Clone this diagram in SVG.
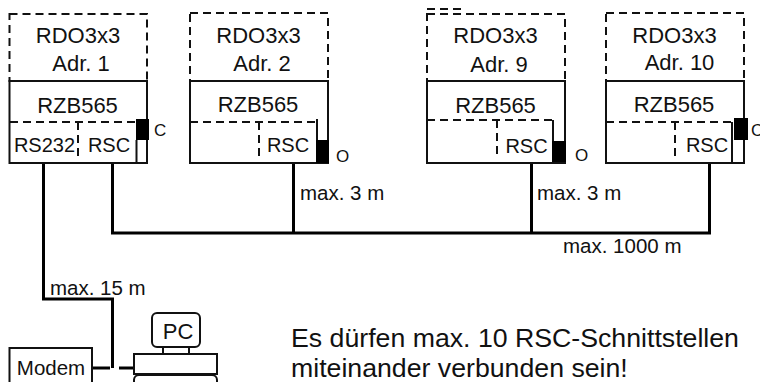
<svg xmlns="http://www.w3.org/2000/svg" width="760" height="382" viewBox="0 0 760 382">
<style>
text{font-family:"Liberation Sans",Arial,sans-serif;fill:#111}
.t{font-size:22px;text-anchor:middle}
.r{font-size:20px;text-anchor:middle}
.m{font-size:20.500px}
.c{font-size:17px}
.n{fill:none;stroke:#111;stroke-width:2}
.d{fill:none;stroke:#111;stroke-width:2;stroke-dasharray:8 5}
.b{fill:#000}
.w{fill:none;stroke:#000;stroke-width:3}
</style>
<rect width="760" height="382" fill="#fff"/>
<g id="connectors">
<path class="w" d="M43.500 163V299H112.500V368"/>
<path class="w" d="M112.500 163V233H709.500V163"/>
<path class="w" d="M293.500 163V233M531.500 163V233"/>
<path class="w" d="M92 368H110M119 368H134"/>
</g>
<g id="node-adr1">
<rect class="d" x="9.500" y="14" width="137.500" height="67"/>
<rect class="n" x="9.500" y="81" width="137.500" height="82"/>
<path class="d" d="M10 122H136M78 122V160"/>
<path class="n" d="M136.500 140V163"/>
<rect class="b" x="136" y="119" width="13" height="21"/>
<text class="t" x="78" y="43">RDO3x3</text><text class="t" x="81" y="71">Adr. 1</text>
<text class="t" x="77.500" y="112.500">RZB565</text>
<text class="r" x="44.500" y="152">RS232</text><text class="r" x="109" y="152">RSC</text>
<text class="c" x="154" y="136">C</text>
</g>
<g id="node-adr2">
<rect class="d" x="190" y="13" width="138" height="68"/>
<rect class="n" x="190" y="81" width="138" height="82"/>
<path class="d" d="M190 122H317M259 122V160"/>
<path class="n" d="M317 119V140"/>
<rect class="b" x="316" y="140" width="13" height="23"/>
<text class="t" x="258.500" y="42.500">RDO3x3</text><text class="t" x="262" y="70.500">Adr. 2</text>
<text class="t" x="258" y="112">RZB565</text>
<text class="r" x="288" y="152">RSC</text>
<text class="c" x="336" y="162">O</text>
</g>
<g id="node-adr9">
<path class="d" d="M427 9H464"/>
<rect class="d" x="427" y="14" width="138" height="67"/>
<rect class="n" x="427" y="81" width="138" height="82"/>
<path class="d" d="M427 120H553M497 120V158"/>
<path class="n" d="M553 120V141"/>
<rect class="b" x="552" y="141" width="14" height="21"/>
<text class="t" x="495.500" y="43">RDO3x3</text><text class="t" x="499" y="71.500">Adr. 9</text>
<text class="t" x="495.500" y="113">RZB565</text>
<text class="r" x="526.500" y="152.500">RSC</text>
<text class="c" x="575" y="161">O</text>
</g>
<g id="node-adr10">
<rect class="d" x="606" y="13" width="138" height="68"/>
<rect class="n" x="606" y="81" width="138" height="82"/>
<path class="d" d="M606 122H733M675 122V160"/>
<path class="n" d="M732 122V163"/>
<rect class="b" x="734" y="118" width="14" height="22"/>
<text class="t" x="674.500" y="42.500">RDO3x3</text><text class="t" x="679.500" y="70">Adr. 10</text>
<text class="t" x="674" y="112">RZB565</text>
<text class="r" x="707" y="152">RSC</text>
<text class="c" x="751" y="136">C</text>
</g>
<g id="node-modem">
<rect class="n" x="9.500" y="348" width="82.500" height="40"/>
<text x="51" y="375" font-size="20.500" text-anchor="middle">Modem</text>
</g>
<g id="node-pc">
<rect class="n" x="152" y="313" width="48" height="34" rx="5"/>
<rect class="n" x="163" y="347" width="26" height="7"/>
<rect class="n" x="134" y="354" width="83" height="20"/>
<rect class="n" x="134" y="375" width="83" height="20" rx="5"/>
<text x="178" y="339" font-size="22" text-anchor="middle">PC</text>
</g>
<g id="labels">
<text class="m" x="300" y="200">max. 3 m</text>
<text class="m" x="537" y="200">max. 3 m</text>
<text class="m" x="563" y="253">max. 1000 m</text>
<text class="m" x="50" y="294.500">max. 15 m</text>
<text x="291" y="347" font-size="26.700">Es dürfen max. 10 RSC-Schnittstellen</text>
<text x="291" y="377" font-size="26.700">miteinander verbunden sein!</text>
</g>
</svg>
